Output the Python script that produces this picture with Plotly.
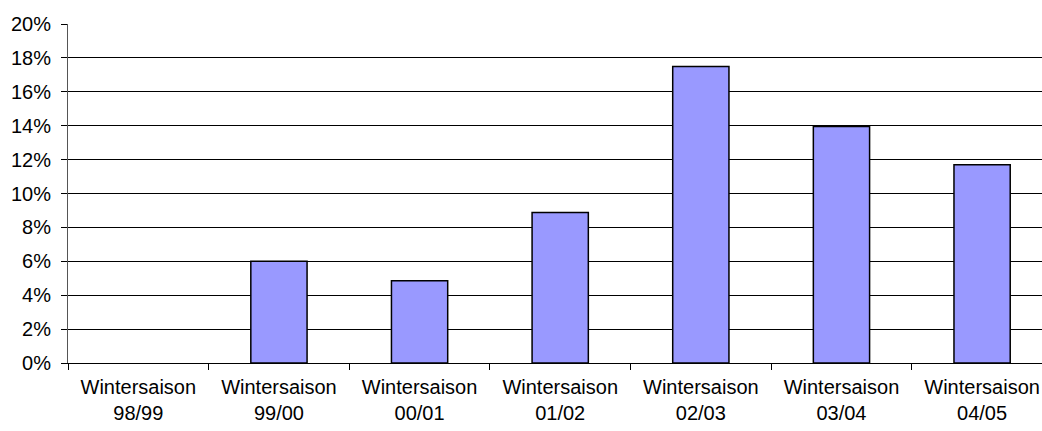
import plotly.graph_objects as go

seasons = ["98/99", "99/00", "00/01", "01/02", "02/03", "03/04", "04/05"]
category_labels = ["Wintersaison<br>" + s for s in seasons]
values = [None, 0.060, 0.0485, 0.0888, 0.175, 0.1395, 0.1169]
y_ticks = [0, 0.02, 0.04, 0.06, 0.08, 0.10, 0.12, 0.14, 0.16, 0.18, 0.20]
y_tick_text = ["0%", "2%", "4%", "6%", "8%", "10%", "12%", "14%", "16%", "18%", "20%"]

fig = go.Figure()
fig.add_trace(go.Bar(
    x=category_labels,
    y=values,
    marker=dict(color="#9999FF", line=dict(color="black", width=1.5)),
    width=0.4,
))

fig.update_layout(
    width=1042, height=431,
    margin=dict(l=68, r=0, t=24, b=68, autoexpand=False),
    paper_bgcolor="white", plot_bgcolor="white",
    font=dict(family="Liberation Sans, Arial", size=20, color="black"),
    showlegend=False,
)
fig.update_xaxes(
    type="category",
    range=[-0.5, 6.426],
    tickson="boundaries",
    ticks="outside", ticklen=6, tickcolor="black",
    showline=True, linecolor="black", linewidth=1,
    showgrid=False,
    automargin=False,
    ticklabelstandoff=6,
    tickfont=dict(size=20),
)
fig.update_yaxes(
    range=[0, 0.2],
    tickvals=y_ticks, ticktext=y_tick_text,
    ticks="outside", ticklen=6, tickcolor="black",
    showline=True, linecolor="#555555", linewidth=1,
    showgrid=True, gridcolor="black", gridwidth=1,
    zeroline=False,
    automargin=False,
    ticklabelstandoff=6,
    tickfont=dict(size=20),
)

fig.write_html(
    "out.html",
    config={"displayModeBar": False},
    post_script="document.body.style.margin='0px';document.body.style.overflow='hidden';",
)
